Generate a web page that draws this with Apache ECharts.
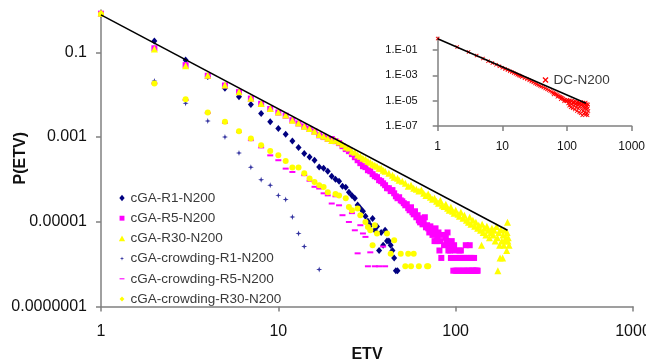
<!DOCTYPE html>
<html>
<head>
<meta charset="utf-8">
<script src="https://cdn.jsdelivr.net/npm/echarts@6/dist/echarts.min.js"></script>
<style>
html, body { margin: 0; padding: 0; background: #fff; }
#main { width: 646px; height: 362px; }
</style>
</head>
<body>
<div id="main"></div>
<script>
// tick values and labels
const xTickValues = [1, 10, 100, 1000];
const xTickLabels = ["1", "10", "100", "1000"];
const yTickValues = [1e-7, 1e-5, 1e-3, 1e-1];
const yTickLabels = ["0.0000001", "0.00001", "0.001", "0.1"];
const insetYTickLabels = ["1.E-07", "1.E-05", "1.E-03", "1.E-01"];

// [ETV, P(ETV)]
const cgaR1 = [
    [1, 0.8], [2, 0.185], [3, 0.066], [4, 0.027], [5, 0.0143], [6, 0.0089], [7, 0.0059], [8, 0.0036],
    [9, 0.0023], [10, 0.0016], [11, 0.00117], [12, 0.00081], [13, 0.00057], [14, 0.00041], [15, 0.00034],
    [16, 0.000284], [17, 0.000197], [18, 0.000184], [19, 0.000156], [20, 0.000119], [21, 0.000101],
    [22, 0.000091], [23, 0.000069], [24, 0.000065], [25, 0.00005], [26, 0.000042], [27, 0.000036],
    [28, 0.000025], [29, 0.000021], [30, 0.0000177], [31, 0.0000135], [32, 0.0000103], [33, 0.0000083],
    [34, 0.000012], [35, 0.0000063], [36, 0.0000077], [37, 0.0000021], [38, 0.0000056], [39, 0.0000028],
    [40, 0.0000063], [41, 0.0000035], [42, 0.0000035], [43, 0.0000028], [44, 0.0000021], [45, 0.0000014],
    [46, 0.0000007], [47, 0.0000007]
];

const cgaR5 = [
    [1, 0.82], [2, 0.125], [3, 0.05], [4, 0.028], [5, 0.0165], [6, 0.0115], [7, 0.0081], [8, 0.0061],
    [9, 0.0046], [10, 0.0038], [11, 0.0032], [12, 0.0025], [13, 0.0021], [14, 0.00178], [15, 0.00155],
    [16, 0.00135], [17, 0.0011], [18, 0.001], [19, 0.00091], [20, 9e-4], [21, 8e-4], [22, 7.2e-4],
    [23, 6.1e-4], [24, 5.2e-4], [25, 4.65e-4], [26, 3.95e-4], [27, 3.35e-4], [28, 2.84e-4], [29, 2.42e-4],
    [30, 2.05e-4], [31, 1.95e-4], [32, 1.65e-4], [33, 1.56e-4], [34, 1.33e-4], [35, 1.19e-4], [36, 1.13e-4],
    [37, 9.6e-5], [38, 9.1e-5], [39, 8.1e-5], [40, 7.3e-5], [41, 6.2e-5], [42, 6.2e-5], [43, 5.3e-5],
    [44, 5.6e-5], [45, 4.7e-5], [46, 4.0e-5], [47, 3.6e-5], [48, 3.8e-5], [49, 3.2e-5], [50, 3.05e-5],
    [51, 2.75e-5], [52, 2.45e-5], [53, 2.6e-5], [54, 2.1e-5], [55, 1.87e-5], [56, 2.2e-5], [57, 1.68e-5],
    [58, 1.5e-5], [59, 1.77e-5], [60, 1.28e-5], [61, 1.43e-5], [62, 1.08e-5], [63, 9.7e-6], [64, 1.21e-5],
    [65, 8.7e-6], [66, 1.08e-5], [67, 1.28e-5], [68, 7.4e-6], [69, 8.3e-6], [70, 7.0e-6], [71, 5.6e-6],
    [72, 7.8e-6], [73, 6.3e-6], [74, 4.9e-6], [75, 5.6e-6], [76, 3.5e-6], [77, 7e-6], [78, 3.5e-6],
    [79, 4.2e-6], [80, 5.6e-6], [81, 2.1e-6], [82, 3.5e-6], [83, 1.4e-6], [84, 4.9e-6], [86, 2.8e-6],
    [88, 4.2e-6], [89, 3.5e-6], [90, 5.6e-6], [91, 2.1e-6], [92, 2.8e-6], [93, 2.1e-6], [94, 1.4e-6],
    [95, 3.5e-6], [96, 1.4e-6], [97, 7e-7], [98, 2.8e-6], [99, 2.1e-6], [100, 7e-7], [101, 1.4e-6],
    [102, 7e-7], [103, 1.4e-6], [104, 7e-7], [105, 2.1e-6], [106, 1.4e-6], [107, 2.1e-6], [108, 7e-7],
    [109, 1.4e-6], [110, 7e-7], [111, 1.4e-6], [112, 7e-7], [113, 1.4e-6], [114, 2.8e-6], [115, 1.4e-6],
    [116, 7e-7], [117, 1.4e-6], [118, 7e-7], [119, 7e-7], [120, 2.8e-6], [121, 1.4e-6], [122, 1.4e-6],
    [123, 7e-7], [124, 1.4e-6], [125, 7e-7], [126, 7e-7], [127, 1.4e-6], [128, 7e-7], [130, 7e-7],
    [132, 7e-7], [133, 7e-7]
];

const cgaR30 = [
    [1, 0.85], [2, 0.12], [3, 0.048], [4, 0.029], [5, 0.0169], [6, 0.0117], [7, 0.0082], [8, 0.0062],
    [9, 0.0047], [10, 0.0039], [11, 0.0033], [12, 0.0025], [13, 0.00214], [14, 0.00181], [15, 0.0016],
    [16, 0.00138], [17, 0.00115], [18, 0.00104], [19, 0.00094], [20, 0.00083], [21, 8.45e-4], [22, 7.6e-4],
    [23, 6.8e-4], [24, 5.8e-4], [25, 5.5e-4], [26, 4.65e-4], [27, 4.4e-4], [28, 3.75e-4], [29, 3.53e-4],
    [30, 3.17e-4], [31, 3.0e-4], [32, 2.7e-4], [33, 2.55e-4], [34, 2.29e-4], [35, 2.17e-4], [36, 2.05e-4],
    [37, 1.84e-4], [38, 1.84e-4], [39, 1.65e-4], [40, 1.56e-4], [42, 1.4e-4], [44, 1.26e-4], [45, 1.13e-4],
    [47, 1.07e-4], [48, 9.6e-5], [50, 9.1e-5], [52, 8.1e-5], [54, 6.9e-5], [56, 7.3e-5], [58, 6.2e-5],
    [60, 5.9e-5], [62, 5.3e-5], [64, 5.6e-5], [66, 4.7e-5], [68, 4.2e-5], [70, 4.5e-5], [72, 3.8e-5],
    [74, 3.4e-5], [76, 3.6e-5], [78, 3.05e-5], [80, 2.75e-5], [82, 3.2e-5], [84, 2.45e-5], [86, 2.3e-5],
    [88, 2.6e-5], [90, 2.1e-5], [92, 1.87e-5], [94, 2.2e-5], [96, 1.77e-5], [98, 1.58e-5], [100, 1.87e-5],
    [103, 1.5e-5], [105, 1.35e-5], [107, 1.68e-5], [110, 1.21e-5], [112, 1.43e-5], [115, 1.08e-5],
    [118, 9.7e-6], [120, 1.28e-5], [122, 8.7e-6], [125, 1.08e-5], [128, 7.8e-6], [130, 9.7e-6],
    [133, 7.0e-6], [135, 8.3e-6], [138, 6.3e-6], [140, 2.8e-6], [141, 8.7e-6], [143, 5.6e-6], [145, 7e-6],
    [148, 4.9e-6], [150, 7.8e-6], [153, 6.3e-6], [155, 4.2e-6], [158, 5.6e-6], [160, 7e-6], [163, 4.9e-6],
    [165, 6.3e-6], [167, 3.5e-6], [170, 7.7e-6], [172, 4.2e-6], [173, 7e-7], [175, 5.6e-6], [177, 2.8e-6],
    [178, 1.4e-6], [180, 6.6e-6], [182, 3.5e-6], [184, 1.4e-6], [185, 4.9e-6], [187, 2.8e-6], [189, 6.3e-6],
    [190, 3.5e-6], [192, 4.2e-6], [194, 2.1e-6], [195, 5.6e-6], [196, 9.8e-6], [197, 3.5e-6], [198, 4.2e-6],
    [200, 2.8e-6]
];

const crowdR1 = [
    [1, 0.78], [2, 0.021], [3, 0.0063], [4, 0.0024], [5, 0.001], [6, 0.00042], [7, 0.000194], [8, 0.000098],
    [9, 0.000073], [10, 0.000042], [11, 0.0000335], [12, 0.000013], [13, 0.0000053], [14, 0.0000026],
    [17, 0.00000075]
];

const crowdR5 = [
    [1, 0.8], [2, 0.0185], [3, 0.0075], [4, 0.0037], [5, 0.00217], [6, 0.00133], [7, 0.000845], [8, 0.00057],
    [9, 0.00037], [10, 0.000284], [11, 0.00018], [12, 0.00015], [14, 0.000126], [15, 0.000093], [16, 0.000067],
    [17, 0.000061], [18, 0.000047], [19, 0.000042], [20, 0.000027], [21, 0.00004], [22, 0.0000245],
    [23, 0.0000143], [25, 0.0000099], [26, 0.000016], [27, 0.0000063], [28, 0.0000018], [29, 0.0000083],
    [30, 0.0000053], [31, 0.0000044], [32, 0.00000089], [33, 0.0000019], [35, 0.00000089], [37, 0.00000089],
    [39, 0.0000026], [40, 0.00000089]
];

const crowdR30 = [
    [1, 0.8], [2, 0.0185], [3, 0.0078], [4, 0.0038], [5, 0.0023], [6, 0.00138], [7, 0.00093], [8, 0.00064],
    [9, 0.00047], [10, 0.00037], [11, 0.000274], [12, 0.000191], [13, 0.000191], [14, 0.00014],
    [15, 0.000105], [16, 0.000087], [17, 0.000073], [18, 0.0000665], [19, 0.00005], [21, 0.000045],
    [22, 0.000042], [24, 0.000036], [25, 0.0000224], [26, 0.0000187], [28, 0.0000205], [29, 0.0000143],
    [31, 0.0000099], [32, 0.0000075], [33, 0.0000063], [34, 0.0000028], [35, 0.0000083], [36, 0.0000053],
    [41, 0.0000053], [43, 0.00000177], [45, 0.00000366], [49, 0.00000177], [52, 0.00000089], [54, 0.00000177],
    [56, 0.00000089], [58, 0.00000177], [62, 0.00000089], [69, 0.00000089], [70, 0.00000089]
];

const dcN200 = [
    [1, 0.8], [2, 0.17], [3, 0.07], [4, 0.036], [5, 0.021], [6, 0.013], [7, 0.0092], [8, 0.0068], [9, 0.0051],
    [10, 0.0039], [11, 0.0031], [12, 0.0026], [13, 0.0021], [14, 0.0018], [15, 0.0015], [16, 0.0013],
    [17, 0.0011], [18, 0.00097], [19, 0.00086], [20, 0.00075], [22, 0.0006], [24, 0.00049], [26, 0.0004],
    [28, 0.00033], [30, 0.00028], [32, 0.00023], [34, 0.0002], [36, 0.00017], [38, 0.00015], [40, 0.00013],
    [43, 0.00011], [46, 0.000092], [49, 0.000078], [52, 0.000066], [55, 0.000058], [58, 0.00005],
    [61, 0.000043], [62, 0.000031], [64, 0.000038], [67, 0.000034], [70, 0.00003], [71, 0.00002],
    [73, 0.000026], [76, 0.000022], [79, 0.00002], [80, 0.000013], [82, 0.000018], [85, 0.000016],
    [88, 0.000014], [90, 0.000009], [91, 0.000012], [94, 0.000011], [97, 0.0000095], [100, 0.000009],
    [102, 1.2e-5], [104, 6e-6], [106, 9e-6], [108, 4e-6], [110, 1.1e-5], [112, 7e-6], [114, 3e-6],
    [116, 9e-6], [118, 5e-6], [120, 1e-5], [122, 2.5e-6], [124, 6.5e-6], [126, 8.5e-6], [128, 4e-6],
    [130, 7e-6], [132, 2e-6], [134, 9e-6], [136, 5e-6], [138, 3e-6], [140, 7.5e-6], [142, 1.5e-6],
    [144, 6e-6], [146, 4.5e-6], [148, 8e-6], [150, 2.5e-6], [152, 5.5e-6], [154, 1.2e-6], [156, 7e-6],
    [158, 3.5e-6], [160, 6e-6], [162, 1e-6], [164, 4.5e-6], [166, 8e-6], [168, 2e-6], [170, 5e-6],
    [172, 7e-7], [174, 3.5e-6], [176, 6.5e-6], [178, 1.5e-6], [180, 4e-6], [182, 9e-7], [184, 6e-6],
    [186, 2.5e-6], [188, 5e-6], [190, 1.2e-6], [192, 3e-6], [194, 7e-6], [196, 8e-7], [198, 4.5e-6],
    [200, 2e-6], [202, 5.5e-6], [204, 1e-6], [206, 3.5e-6], [208, 7e-7], [210, 2.5e-6], [212, 5e-6],
    [214, 1.5e-6]
];

// power-law line drawn over the points
const fitLine = [[1, 0.77], [196, 0.0000063]];

const font = "Liberation Sans, Arial, sans-serif";
const axisGray = "#808080";

function labelFor(values, labels) {
    return function (v) {
        const i = values.findIndex(t => Math.abs(Math.log10(v) - Math.log10(t)) < 1e-6);
        return i < 0 ? "" : labels[i];
    };
}

const starPath = "path://M5,0L6.2,3.8L10,5L6.2,6.2L5,10L3.8,6.2L0,5L3.8,3.8Z";
const crossPath = "path://M0,1.5L1.5,0L5,3.5L8.5,0L10,1.5L6.5,5L10,8.5L8.5,10L5,6.5L1.5,10L0,8.5L3.5,5Z";

function scatter(name, data, symbol, size, color, axis) {
    return {
        name: name,
        type: "scatter",
        xAxisIndex: axis,
        yAxisIndex: axis,
        data: data,
        symbol: symbol,
        symbolSize: size,
        clip: false,
        itemStyle: { color: color, opacity: 1 },
        emphasis: { disabled: true }
    };
}

function fit(axis) {
    return {
        type: "line",
        xAxisIndex: axis,
        yAxisIndex: axis,
        data: fitLine,
        symbol: "none",
        z: 5,
        lineStyle: { color: "#000", width: 1.5 },
        emphasis: { disabled: true }
    };
}

function xAxis(grid, size, margin, name) {
    return {
        gridIndex: grid,
        type: "log",
        logBase: 10,
        min: 1,
        max: 1000,
        name: name,
        nameLocation: "middle",
        nameGap: 40,
        nameMoveOverlap: false,
        nameTextStyle: { fontWeight: "bold", fontSize: 16, color: "#111", fontFamily: font },
        axisLine: { lineStyle: { color: axisGray, width: 1.5 } },
        axisTick: { customValues: xTickValues, length: 5, lineStyle: { color: axisGray, width: 1.5 } },
        axisLabel: {
            customValues: xTickValues,
            formatter: labelFor(xTickValues, xTickLabels),
            fontSize: size, color: "#111", margin: margin, fontFamily: font
        },
        splitLine: { show: false },
        minorTick: { show: false }
    };
}

function yAxis(grid, size, margin, labels, name) {
    return {
        gridIndex: grid,
        type: "log",
        logBase: 10,
        min: 1e-7,
        max: 1,
        name: name,
        nameLocation: "middle",
        nameGap: 72,
        nameMoveOverlap: false,
        nameTextStyle: { fontWeight: "bold", fontSize: 16, color: "#111", fontFamily: font },
        axisLine: { lineStyle: { color: axisGray, width: 1.5 } },
        axisTick: { customValues: yTickValues, length: 5, lineStyle: { color: axisGray, width: 1.5 } },
        axisLabel: {
            customValues: yTickValues,
            formatter: labelFor(yTickValues, labels),
            fontSize: size, color: "#111", margin: margin, fontFamily: font
        },
        splitLine: { show: false },
        minorTick: { show: false }
    };
}

const chart = echarts.init(document.getElementById("main"));

const option = {
    animation: false,
    backgroundColor: "#fff",
    grid: [
        { left: 101, right: 13, top: 10, bottom: 55.5, containLabel: false, outerBoundsMode: "none" },
        { left: 437.7, right: 14.3, top: 37.3, bottom: 236, containLabel: false, outerBoundsMode: "none" }
    ],
    xAxis: [xAxis(0, 16, 17, "ETV"), xAxis(1, 12, 15, "")],
    yAxis: [yAxis(0, 16, 14, yTickLabels, "P(ETV)"), yAxis(1, 11, 20, insetYTickLabels, "")],
    legend: [
        {
            orient: "vertical",
            left: 113.5,
            top: 186,
            itemWidth: 7,
            itemHeight: 7,
            itemGap: 6.2,
            selectedMode: false,
            textStyle: { fontSize: 13.5, color: "#3a3a3a", fontFamily: font, lineHeight: 14 },
            data: [
                { name: "cGA-R1-N200", icon: "path://M0,0M10,10M5,0.5L8.8,5L5,9.5L1.2,5Z" },
                { name: "cGA-R5-N200", icon: "path://M0,0M10,10M1.5,1.5h7v7h-7z" },
                { name: "cGA-R30-N200", icon: "path://M0,0M10,10M5,1L9.5,9L0.5,9Z" },
                { name: "cGA-crowding-R1-N200", icon: "path://M0,0M10,10M5,2L5.7,4.3L8,5L5.7,5.7L5,8L4.3,5.7L2,5L4.3,4.3Z" },
                { name: "cGA-crowding-R5-N200", icon: "path://M0,0M10,10M1.5,4.2h7v1.6h-7z" },
                { name: "cGA-crowding-R30-N200", icon: "path://M0,0M10,10M5,1.5L8.5,5L5,8.5L1.5,5Z" }
            ]
        },
        {
            orient: "vertical",
            left: 537.5,
            top: 68,
            itemWidth: 6,
            itemHeight: 6,
            selectedMode: false,
            textStyle: { fontSize: 13.5, color: "#3a3a3a", fontFamily: font, lineHeight: 14 },
            data: [{ name: "DC-N200", icon: crossPath }]
        }
    ],
    series: [
        scatter("cGA-R1-N200", cgaR1, "diamond", [6, 7], "#000080", 0),
        scatter("cGA-R5-N200", cgaR5, "rect", 6, "#ff00ff", 0),
        scatter("cGA-R30-N200", cgaR30, "triangle", 7, "#ffff00", 0),
        scatter("cGA-crowding-R1-N200", crowdR1, starPath, 6, "#3333a0", 0),
        scatter("cGA-crowding-R5-N200", crowdR5, "rect", [6, 2], "#ff00ff", 0),
        scatter("cGA-crowding-R30-N200", crowdR30, "circle", 6, "#ffff00", 0),
        fit(0),
        scatter("DC-N200", dcN200, crossPath, 4, "#ff0000", 1),
        fit(1)
    ]
};

chart.setOption(option);
</script>
</body>
</html>
